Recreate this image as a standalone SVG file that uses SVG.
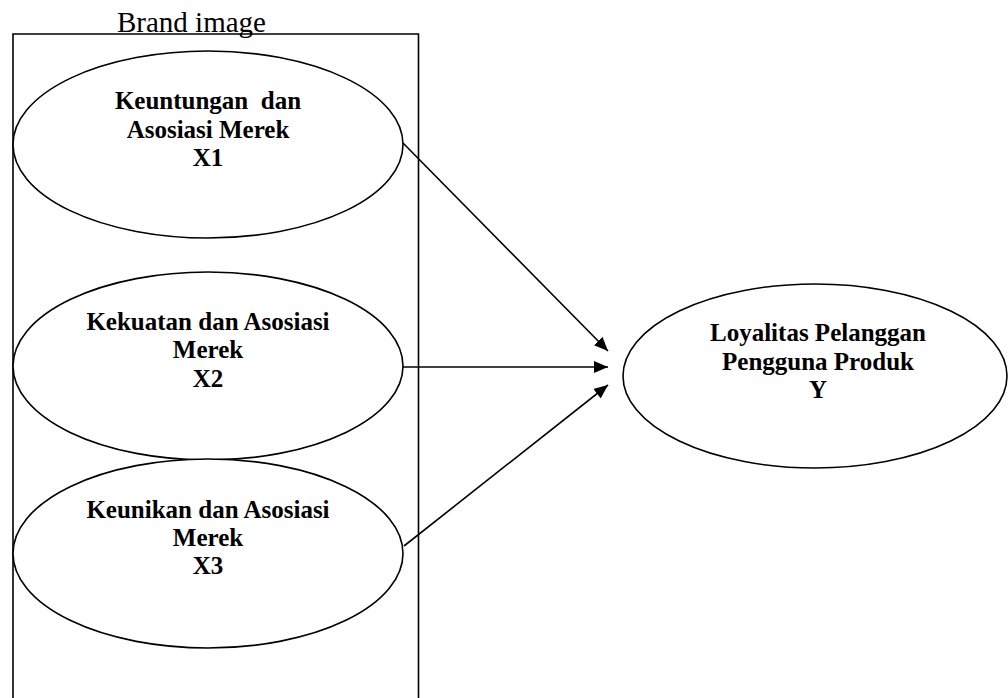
<svg xmlns="http://www.w3.org/2000/svg" width="1008" height="698" viewBox="0 0 1008 698">
<style>
.shape{fill:#fff;stroke:#000;stroke-width:1.6}
.frame{fill:none;stroke:#000;stroke-width:1.6}
.lbl{font-family:"Liberation Serif","Times New Roman",serif;font-weight:bold;font-size:25px;text-anchor:middle;fill:#000;white-space:pre}
.title{font-family:"Liberation Serif","Times New Roman",serif;font-size:29px;fill:#000}
.conn{stroke:#000;stroke-width:1.6;fill:none;marker-end:url(#arr)}
</style>
<defs>
<marker id="arr" markerWidth="14" markerHeight="12" refX="14" refY="6" orient="auto" markerUnits="userSpaceOnUse">
<path d="M0,0 L14,6 L0,12 Z" fill="#000"/>
</marker>
</defs>
<rect width="1008" height="698" fill="#fff"/>
<g id="brand-image">
<path class="frame" d="M13,706 L13,34 L418.5,34 L418.5,706"/>
<text class="title" x="117" y="32">Brand image</text>
</g>
<g id="x1">
<ellipse class="shape" cx="208" cy="144.5" rx="195" ry="93.5"/>
<text class="lbl" x="208" y="109" xml:space="preserve">Keuntungan  dan</text>
<text class="lbl" x="208" y="138">Asosiasi Merek</text>
<text class="lbl" x="208" y="166">X1</text>
</g>
<g id="x2">
<ellipse class="shape" cx="208" cy="366" rx="195" ry="94"/>
<text class="lbl" x="208" y="330">Kekuatan dan Asosiasi</text>
<text class="lbl" x="208" y="358">Merek</text>
<text class="lbl" x="208" y="387">X2</text>
</g>
<g id="x3">
<ellipse class="shape" cx="208" cy="553.5" rx="195" ry="94.5"/>
<text class="lbl" x="208" y="518">Keunikan dan Asosiasi</text>
<text class="lbl" x="208" y="546">Merek</text>
<text class="lbl" x="208" y="574">X3</text>
</g>
<g id="y">
<ellipse class="shape" cx="815" cy="376" rx="192" ry="92"/>
<text class="lbl" x="818" y="341">Loyalitas Pelanggan</text>
<text class="lbl" x="818" y="370">Pengguna Produk</text>
<text class="lbl" x="818" y="398">Y</text>
</g>
<g id="connectors">
<line class="conn" x1="403" y1="143" x2="608" y2="351"/>
<line class="conn" x1="403" y1="367" x2="608" y2="367"/>
<line class="conn" x1="404" y1="546" x2="608" y2="385"/>
</g>
</svg>
